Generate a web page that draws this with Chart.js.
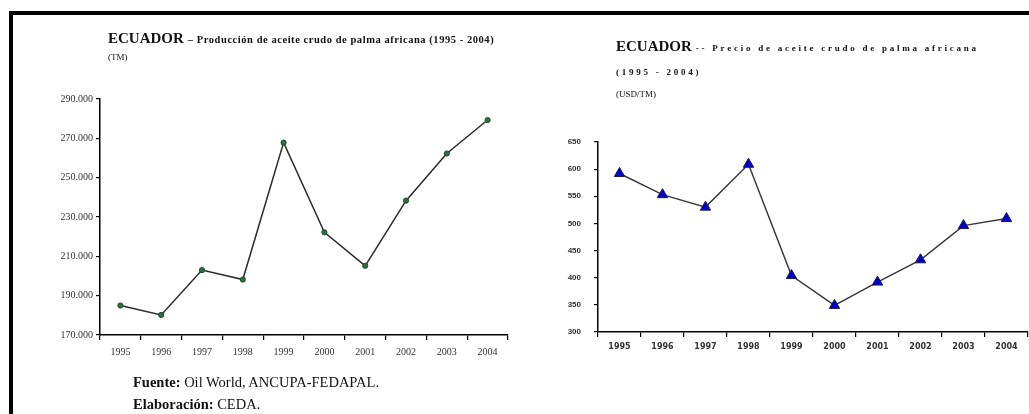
<!DOCTYPE html>
<html>
<head>
<meta charset="utf-8">
<script src="https://cdn.jsdelivr.net/npm/chart.js@4/dist/chart.umd.min.js"></script>
<style>
  html, body { margin: 0; padding: 0; background: #fff; }
  #page { position: relative; width: 1029px; height: 414px; overflow: hidden; font-family: "Liberation Serif", serif; color: #111; }
  canvas { position: absolute; left: 0; top: 0; }
  .frame { position: absolute; left: 9px; top: 11px; width: 1030px; height: 420px; border-top: 4px solid #000; border-left: 4px solid #000; }
  .t { position: absolute; white-space: nowrap; }
  .big { font-size: 15px; font-weight: bold; }
  .sub { font-size: 10.5px; font-weight: bold; letter-spacing: 0.55px; }
  .spaced { font-size: 9px; font-weight: bold; letter-spacing: 2.75px; }
  .unit { font-size: 9px; }
  .foot { font-size: 14.5px; }
</style>
</head>
<body>
<div id="page">
  <div class="frame"></div>
  <canvas id="prod" width="1029" height="414"></canvas>
  <canvas id="price" width="1040" height="414"></canvas>

  <div class="t" style="left:108px; top:29px;"><span class="big">ECUADOR</span> <span class="sub">– Producción de aceite crudo de palma africana (1995 - 2004)</span></div>
  <div class="t unit" style="left:108px; top:52px;">(TM)</div>

  <div class="t" style="left:616px; top:37px;"><span class="big">ECUADOR</span> <span class="spaced">-- Precio de aceite crudo de palma africana</span></div>
  <div class="t spaced" style="left:616px; top:67px;">(1995 - 2004)</div>
  <div class="t unit" style="left:616px; top:89px;">(USD/TM)</div>

  <div class="t foot" style="left:133px; top:374px;"><b>Fuente:</b> Oil World, ANCUPA-FEDAPAL.</div>
  <div class="t foot" style="left:133px; top:396px;"><b>Elaboración:</b> CEDA.</div>
</div>
<script>
const years = ['1995', '1996', '1997', '1998', '1999', '2000', '2001', '2002', '2003', '2004'];
// production, tonnes
const production = [185000, 180200, 203000, 198200, 267800, 222200, 205200, 238300, 262300, 279300];
// price, USD per tonne
const price = [592, 553, 530, 609, 404, 349, 392, 433, 496, 509];

const prodTicks = { min: 170000, max: 290000, step: 20000 };
const priceTicks = { min: 300, max: 650, step: 50 };

function thousands(v) {
  return String(v).replace(/\B(?=(\d{3})+(?!\d))/g, '.');
}

function fixWidth(w) { return s => { s.width = w; }; }
function fixHeight(h) { return s => { s.height = h; }; }

new Chart(document.getElementById('prod'), {
  type: 'line',
  data: {
    labels: years,
    datasets: [{
      data: production,
      borderColor: '#2b2b2b',
      borderWidth: 1.5,
      pointRadius: 2.6,
      pointBackgroundColor: '#2f6e45',
      pointBorderColor: '#1f4a2e',
      pointBorderWidth: 1,
      tension: 0,
    }],
  },
  options: {
    responsive: false,
    animation: false,
    layout: { padding: { left: 45, right: 521, top: 99, bottom: 49 } },
    plugins: { legend: { display: false }, tooltip: { enabled: false } },
    scales: {
      x: {
        offset: true,
        afterFit: fixHeight(30),
        grid: { offset: true, drawOnChartArea: false, tickLength: 5, tickColor: '#000', lineWidth: 1.2 },
        border: { color: '#000', width: 1.5 },
        ticks: { color: '#333', padding: 6, font: { family: 'Liberation Serif', size: 10 } },
      },
      y: {
        min: prodTicks.min,
        max: prodTicks.max,
        afterFit: fixWidth(55),
        grid: { drawOnChartArea: false, tickLength: 4, tickColor: '#000', lineWidth: 1.2 },
        border: { color: '#000', width: 1.5 },
        ticks: {
          stepSize: prodTicks.step,
          color: '#333',
          padding: 3,
          font: { family: 'Liberation Serif', size: 10 },
          callback: v => thousands(v),
        },
      },
    },
  },
});

new Chart(document.getElementById('price'), {
  type: 'line',
  data: {
    labels: years,
    datasets: [{
      data: price,
      borderColor: '#3a3a3a',
      borderWidth: 1.5,
      pointStyle: 'triangle',
      pointRadius: 6,
      pointBackgroundColor: '#0000cc',
      pointBorderColor: '#1a1a4a',
      pointBorderWidth: 1,
      tension: 0,
    }],
  },
  options: {
    responsive: false,
    animation: false,
    layout: { padding: { left: 558, right: 12, top: 142, bottom: 57 } },
    plugins: { legend: { display: false }, tooltip: { enabled: false } },
    scales: {
      x: {
        offset: true,
        afterFit: fixHeight(25),
        grid: { offset: true, drawOnChartArea: false, tickLength: 5, tickColor: '#000', lineWidth: 1.2 },
        border: { color: '#000', width: 1.5 },
        ticks: { color: '#333', padding: 5, font: { family: 'DejaVu Sans', size: 8, weight: 'bold' } },
      },
      y: {
        min: priceTicks.min,
        max: priceTicks.max,
        afterFit: fixWidth(40),
        grid: { drawOnChartArea: false, tickLength: 4, tickColor: '#000', lineWidth: 1.2 },
        border: { color: '#000', width: 1.5 },
        ticks: {
          stepSize: priceTicks.step,
          color: '#333',
          padding: 13,
          font: { family: 'Liberation Sans', size: 8, weight: 'bold' },
        },
      },
    },
  },
});
</script>
</body>
</html>
